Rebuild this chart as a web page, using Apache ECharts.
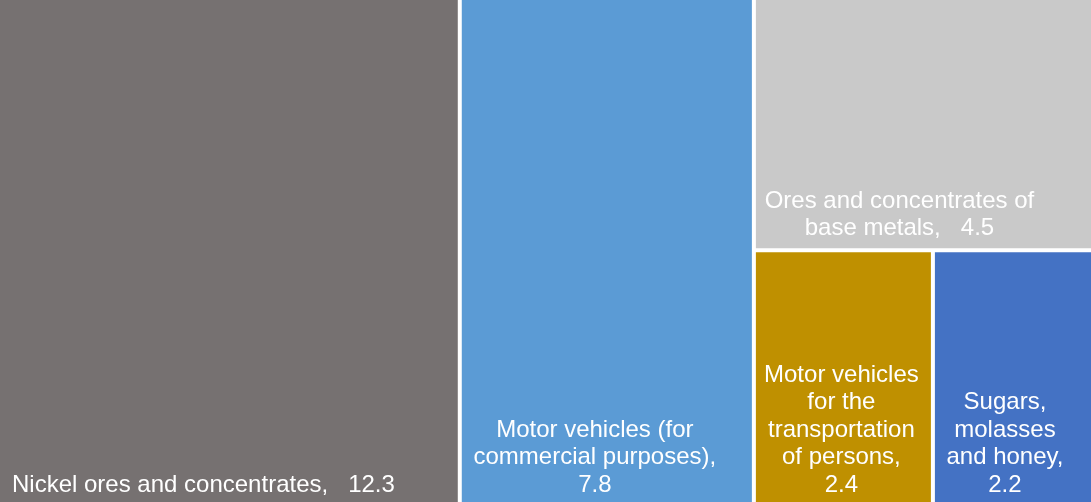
<!DOCTYPE html>
<html>
<head>
<meta charset="utf-8">
<script src="https://cdn.jsdelivr.net/npm/echarts@6/dist/echarts.min.js"></script>
<style>
  html, body { margin: 0; padding: 0; background: #ffffff; }
  #chart { width: 1091px; height: 502px; }
</style>
</head>
<body>
<div id="chart"></div>
<script>
// Tile names (line breaks as shown in each tile)
const categories = [
  'Nickel ores and concentrates,',
  'Motor vehicles (for\ncommercial purposes),',
  'Ores and concentrates of\nbase metals,',
  'Motor vehicles\nfor the\ntransportation\nof persons,',
  'Sugars,\nmolasses\nand honey,'
];
// Tile values
const values = [12.3, 7.8, 4.5, 2.4, 2.2];
// Tile fill colours
const colors = ['#767171', '#5B9BD5', '#C9C9C9', '#BF9000', '#4472C4'];
// Text placed between a name and its value
const separators = ['   ', '\n', '   ', '\n', '\n'];

// Label placement per tile
const labelPlacement = [
  { position: 'insideBottomLeft', align: 'left', offset: [4, 1] },
  { position: 'insideBottom', align: 'center', offset: [-12, 1] },
  { position: 'insideBottom', align: 'center', offset: [-26, 4] },
  { position: 'insideBottom', align: 'center', offset: [-2, 1] },
  { position: 'insideBottom', align: 'center', offset: [-10, 1] }
];

const data = categories.map((name, i) => ({
  name: name,
  value: values[i],
  sep: separators[i],
  itemStyle: { color: colors[i] },
  label: labelPlacement[i]
}));

const chart = echarts.init(document.getElementById('chart'), null, { renderer: 'canvas' });

chart.setOption({
  animation: false,
  series: [{
    type: 'treemap',
    // outer half-gaps fall outside the canvas so tiles touch the edges
    left: -2,
    top: -2,
    width: 1097,
    height: 510,
    squareRatio: 1,
    roam: false,
    nodeClick: false,
    silent: true,
    breadcrumb: { show: false },
    itemStyle: { borderWidth: 0, gapWidth: 4, borderColor: '#ffffff' },
    levels: [
      { itemStyle: { borderWidth: 0, gapWidth: 4 } },
      { itemStyle: { borderWidth: 0, gapWidth: 0 } }
    ],
    label: {
      show: true,
      color: '#ffffff',
      fontFamily: '"Liberation Sans", Arial, sans-serif',
      fontSize: 24,
      lineHeight: 27.5,
      distance: 5,
      overflow: 'none',
      textBorderWidth: 0,
      formatter: function (p) {
        return p.name + p.data.sep + p.value.toFixed(1);
      }
    },
    upperLabel: { show: false },
    data: data
  }]
});
</script>
</body>
</html>
